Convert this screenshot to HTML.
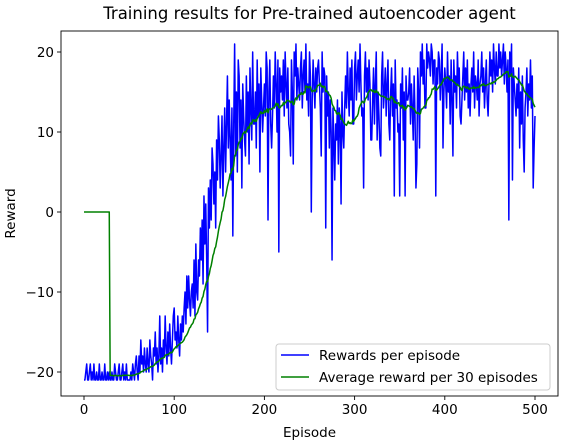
<!DOCTYPE html>
<html><head><meta charset="utf-8"><style>
html,body{margin:0;padding:0;background:#fff;}
svg{display:block;font-family:"DejaVu Sans","Liberation Sans",sans-serif;}
</style></head><body>
<svg id="chart" width="564" height="445" viewBox="0 0 564 445" xmlns="http://www.w3.org/2000/svg"></svg>
<script>
const xTicks = [0,100,200,300,400,500];
const yTicks = [-20,-10,0,10,20];
const rewards = [
-21,-21,-20,-19,-21,-21,-20,-19,-21,-20,
-21,-19,-21,-21,-20,-21,-21,-19,-21,-21,
-20,-21,-21,-19,-21,-21,-20,-21,-20,-21,
-21,-20,-21,-21,-19,-20,-21,-21,-20,-19,
-21,-21,-20,-19,-21,-20,-21,-19,-21,-21,
-21,-21,-20,-21,-19,-20,-21,-19,-18,-20,
-21,-18,-20,-16,-19,-18,-20,-17,-19,-20,
-17,-19,-20,-16,-18,-19,-21,-17,-18,-15,
-19,-17,-20,-18,-13,-19,-17,-20,-16,-18,
-13,-17,-19,-15,-18,-14,-17,-19,-16,-13,
-12,-16,-15,-17,-13,-16,-18,-14,-16,-13,
-15,-12,-10,-14,-8,-12,-8,-11,-13,-10,
-9,-12,-6,-13,-4,-10,-11,-6,-8,-2,
-6,-1,-9,2,-4,1,-6,-15,3,-2,
4,-1,8,6,1,5,-2,9,4,12,
9,3,7,12,2,8,13,5,11,17,
8,14,9,4,13,-3,11,21,7,15,
5,19,17,8,14,3,16,12,9,7,
17,10,15,6,18,13,9,20,11,11,
15,8,19,12,16,5,18,14,10,13,
16,12,20,18,-1,15,19,11,8,12,
17,13,20,16,10,19,-5,18,15,17,
14,19,12,20,16,13,18,11,10,7,
19,15,6,20,17,21,14,18,16,14,
18,20,13,17,19,15,21,14,16,12,
20,17,0,14,19,16,13,18,15,18,
19,16,13,7,20,15,18,17,-2,17,
12,15,8,14,10,-6,13,9,4,11,
9,14,6,13,11,1,15,10,8,13,
17,13,20,15,12,18,14,19,11,11,
18,20,14,17,19,15,21,16,12,13,
3,17,20,15,18,14,19,16,9,9,
14,18,11,16,20,9,15,12,8,7,
17,20,13,15,18,12,16,19,11,9,
15,18,12,16,2,19,13,14,10,11,
2,16,13,18,9,15,2,17,14,14,
15,18,11,16,13,9,17,12,3,6,
18,15,8,20,17,21,16,19,13,13,
21,18,20,19,17,21,20,16,19,19,
2,18,16,20,19,14,17,21,8,15,
18,16,13,20,15,17,11,19,14,7,
19,15,17,13,20,16,18,12,11,14,
17,20,14,18,15,19,13,16,12,16,
18,15,20,13,17,16,14,19,12,16,
17,20,15,18,13,16,19,14,12,16,
20,17,19,15,21,18,16,20,17,17,
21,18,20,17,19,21,16,20,18,15,
19,-1,20,17,21,4,18,16,14,12,
16,13,18,8,15,11,17,9,5,13,
15,18,12,16,14,19,13,17,3,8,
12];
const windowSize = 30;

const NS='http://www.w3.org/2000/svg';
const svg=document.getElementById('chart');
const L=61,R=558,T=31,B=396;
function xs(v){return 84+v*(535-84)/500;}
function ys(v){return 212-v*8;}
function mk(tag,attrs,parent){const e=document.createElementNS(NS,tag);for(const k in attrs)e.setAttribute(k,attrs[k]);(parent||svg).appendChild(e);return e;}

const avg=rewards.map((r,i)=>{if(i<windowSize-1)return 0;let s=0;for(let j=i-windowSize+1;j<=i;j++)s+=rewards[j];return s/windowSize;});

const title=mk('text',{x:(L+R)/2,y:19,'text-anchor':'middle','font-size':'16.5'});
title.textContent='Training results for Pre-trained autoencoder agent';



const clip=mk('clipPath',{id:'pc'});mk('rect',{x:L,y:T,width:R-L,height:B-T},clip);

const blue=mk('polyline',{points:rewards.map((r,i)=>xs(i).toFixed(2)+','+ys(r).toFixed(2)).join(' '),fill:'none',stroke:'#0000ff','stroke-width':'1.5','stroke-linejoin':'round','clip-path':'url(#pc)'});


const green=mk('polyline',{points:avg.map((r,i)=>xs(i).toFixed(2)+','+ys(r).toFixed(2)).join(' '),fill:'none',stroke:'#008000','stroke-width':'1.5','stroke-linejoin':'round','clip-path':'url(#pc)'});



const frame=mk('rect',{x:L,y:T,width:R-L,height:B-T,fill:'none',stroke:'#000','stroke-width':'0.9'});



xTicks.forEach(t=>{
  mk('line',{x1:xs(t),x2:xs(t),y1:B,y2:B+4,stroke:'#000','stroke-width':'0.9'});
  const tx=mk('text',{x:xs(t),y:B+18,'text-anchor':'middle','font-size':'13.5'});
  tx.textContent=t;
  
  
});
yTicks.forEach(t=>{
  mk('line',{x1:L-4,x2:L,y1:ys(t),y2:ys(t),stroke:'#000','stroke-width':'0.9'});
  const tx=mk('text',{x:L-7,y:ys(t)+5,'text-anchor':'end','font-size':'13.5'});
  tx.textContent=t<0?'\u2212'+(-t):t;
  
  
});
const xl=mk('text',{x:(L+R)/2,y:437,'text-anchor':'middle','font-size':'13.5'});
xl.textContent='Episode';


const yl=mk('text',{x:15,y:(T+B)/2,'text-anchor':'middle','font-size':'13.5',transform:'rotate(-90 15 '+((T+B)/2)+')'});
yl.textContent='Reward';



const lg=mk('g',{});


mk('rect',{x:276,y:344,width:274,height:46,rx:3,fill:'#fff','fill-opacity':'0.8',stroke:'#ccc','stroke-width':'1'},lg);
const entries=[['Rewards per episode','#0000ff'],['Average reward per 30 episodes','#008000']];
entries.forEach((e,k)=>{
  const yy=355+k*22;
  const g=mk('g',{},lg);
  
  
  mk('line',{x1:281,x2:309,y1:yy,y2:yy,stroke:e[1],'stroke-width':'1.5'},g);
  const t=mk('text',{x:319,y:yy+5,'font-size':'13.5'},g);
  t.textContent=e[0];
});
</script>
</body></html>
